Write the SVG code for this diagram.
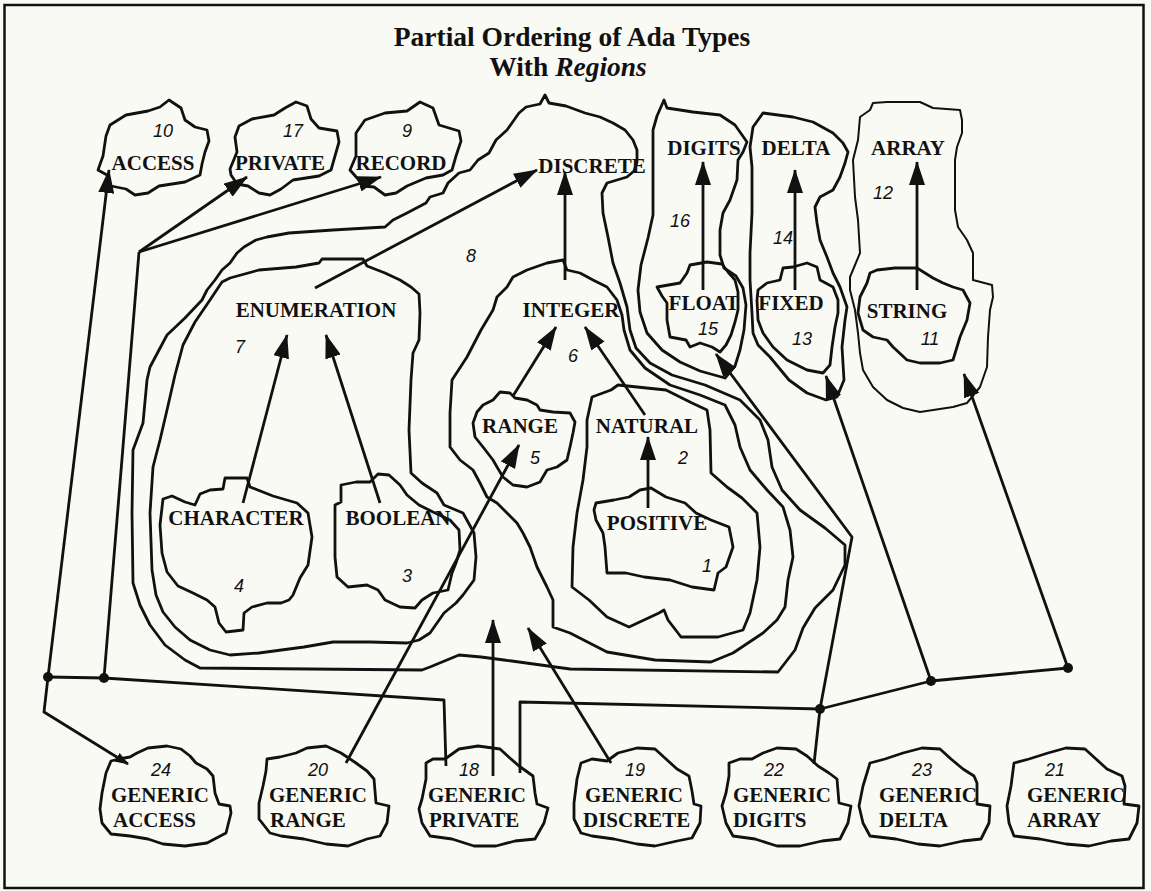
<svg xmlns="http://www.w3.org/2000/svg" width="1151" height="891" viewBox="0 0 1151 891">
<defs>
  <marker id="ah" viewBox="0 0 24 16" refX="23" refY="8" markerWidth="24" markerHeight="16" markerUnits="userSpaceOnUse" orient="auto">
    <path d="M0,0 L24,8 L0,16 z" fill="#111"/>
  </marker>
  <marker id="ahs" viewBox="0 0 14 10" refX="13" refY="5" markerWidth="14" markerHeight="10" markerUnits="userSpaceOnUse" orient="auto">
    <path d="M0,0 L14,5 L0,10 z" fill="#111"/>
  </marker>
</defs>
<style>
  .o{fill:none;stroke:#111;stroke-width:2.8;stroke-linejoin:round;stroke-linecap:round}
  .thin{stroke-width:2}
  .c{fill:none;stroke:#111;stroke-width:2.8;stroke-linejoin:round}
  .a{marker-end:url(#ah)}
  .t{font-family:"Liberation Serif","Times New Roman",serif;font-weight:bold;font-size:21px;fill:#111}
  .m{text-anchor:middle}
  .n{font-family:"Liberation Sans",Arial,sans-serif;font-style:italic;font-size:18px;fill:#111;text-anchor:middle}
  .dot{fill:#111}
</style>

<rect x="0" y="0" width="1151" height="891" fill="#fafaf5"/>
<rect x="4.5" y="5" width="1139" height="883" fill="none" stroke="#111" stroke-width="2.5"/>

<g id="title" font-family="'Liberation Serif','Times New Roman',serif" font-weight="bold" font-size="27.5" fill="#111" text-anchor="middle">
  <text x="572" y="46">Partial Ordering of Ada Types</text>
  <text x="568" y="76">With <tspan font-style="italic">Regions</tspan></text>
</g>

<!-- enclosing regions -->
<g id="region-8-discrete">
  <path class="o" d="M540,104 L545,95 L549,103 L566,106 L585,113 L600,117 L613,123 L625,130 L633,140 L637,150 L637,162 L634,171 L627,177 L607,183 L602,193 L603,213 L608,237 L613,263 L620,283 L627,307 L630,330 L636,348 L650,363 L672,375 L705,385 L740,400 L760,420 L768,440 L772,467 L782,490 L800,510 L825,528 L845,545 L845,565 L833,590 L815,608 L803,628 L795,650 L778,672 L570,669 L519,662 L504,660 L481,657 L459,655 L430,667 L422,670 L200,668 L185,660 L165,645 L150,625 L140,605 L133,583 L132,513 L133,450 L143,423 L147,380 L150,367 L167,335 L185,318 L202,300 L207,290 L215,280 L222,270 L230,263 L237,253 L244,247 L256,240 L267,237 L289,233 L333,230 L385,227 L393,220 L407,213 L426,203 L430,197 L443,193 L448,183 L459,173 L470,170 L478,160 L489,153 L496,140 L507,130 L519,113 L526,107 Z"/>
  <text class="t m" x="592" y="173">DISCRETE</text>
  <text class="n" x="471" y="262">8</text>
</g>

<g id="region-7-enumeration">
  <path class="o" d="M222,282 L230,278 L259,270 L296,267 L319,263 L322,259 L363,259 L367,266 L385,273 L400,280 L411,287 L419,294 L420,313 L419,340 L413,353 L411,380 L409,430 L411,473 L422,483 L437,493 L444,505 L463,513 L474,533 L476,557 L474,580 L463,595 L456,603 L444,613 L437,623 L430,633 L419,640 L407,643 L370,642 L333,642 L304,647 L259,653 L230,655 L210,650 L190,640 L175,627 L163,612 L156,595 L152,570 L150,513 L153,467 L160,440 L167,410 L175,375 L183,345 L195,322 L210,300 Z"/>
  <text class="t m" x="316" y="317">ENUMERATION</text>
  <text class="n" x="240" y="353">7</text>
</g>

<g id="region-4-character">
  <path class="o" d="M163,499 L172,496 L185,502 L195,505 L200,494 L210,490 L223,489 L225,478 L247,478 L250,487 L273,496 L297,503 L308,513 L312,537 L308,565 L300,578 L293,595 L289,600 L281,603 L267,603 L252,607 L244,613 L243,630 L226,632 L219,623 L215,607 L207,600 L193,593 L178,586 L167,572 L162,553 L160,525 Z"/>
  <text class="t m" x="236" y="525">CHARACTER</text>
  <text class="n" x="239" y="592">4</text>
</g>

<g id="region-3-boolean">
  <path class="o" d="M341,485 L356,482 L370,482 L378,474 L389,475 L400,485 L407,495 L419,505 L433,512 L450,520 L459,530 L460,550 L456,563 L452,573 L448,590 L433,593 L422,600 L415,608 L400,607 L385,600 L378,590 L367,585 L348,587 L337,577 L335,557 L335,505 L341,502 Z"/>
  <text class="t m" x="398" y="525">BOOLEAN</text>
  <text class="n" x="407" y="582">3</text>
</g>

<g id="region-6-integer">
  <path class="o" d="M563,260 L567,270 L580,273 L593,280 L607,287 L617,300 L622,315 L624,330 L630,350 L645,368 L670,385 L700,395 L725,405 L735,425 L740,447 L750,470 L767,490 L783,507 L790,530 L793,557 L788,580 L785,607 L777,620 L763,633 L733,653 L711,662 L655,660 L607,652 L570,633 L553,627 L553,600 L547,587 L537,567 L530,547 L523,533 L517,523 L507,513 L497,503 L487,497 L480,483 L473,470 L460,460 L450,447 L450,413 L452,380 L467,357 L481,330 L487,320 L493,310 L497,297 L507,287 L513,277 L527,270 L547,263 Z"/>
  <text class="t m" x="571" y="317">INTEGER</text>
  <text class="n" x="573" y="362">6</text>
</g>

<g id="region-5-range">
  <path class="o" d="M477,412 L483,405 L493,400 L500,392 L510,393 L515,398 L527,400 L537,405 L540,410 L553,412 L570,413 L575,422 L573,433 L570,447 L567,460 L557,467 L547,470 L540,482 L527,487 L513,485 L503,477 L497,467 L493,460 L483,447 L475,437 L473,423 Z"/>
  <text class="t m" x="520" y="433">RANGE</text>
  <text class="n" x="535" y="464">5</text>
</g>

<g id="region-2-natural">
  <path class="o" d="M592,397 L611,390 L618,385 L637,387 L666,390 L692,403 L707,410 L710,430 L711,473 L727,487 L742,498 L757,513 L760,547 L757,580 L750,613 L743,630 L718,637 L681,637 L668,620 L664,610 L659,613 L629,627 L607,617 L589,600 L572,587 L573,547 L577,513 L583,480 L587,447 L587,420 Z"/>
  <text class="t m" x="647" y="433">NATURAL</text>
  <text class="n" x="683" y="464">2</text>
</g>

<g id="region-1-positive">
  <path class="o" d="M596,503 L614,500 L629,497 L640,490 L651,488 L666,497 L685,503 L696,513 L711,520 L729,527 L733,547 L726,567 L718,573 L714,590 L692,587 L670,580 L644,577 L626,573 L607,573 L605,547 L603,533 L596,520 L594,510 Z"/>
  <text class="t m" x="657" y="530">POSITIVE</text>
  <text class="n" x="707" y="572">1</text>
</g>

<g id="region-16-digits">
  <path class="o" d="M664,100 L667,108 L693,112 L720,115 L735,125 L747,142 L743,152 L738,160 L737,180 L730,200 L723,213 L720,230 L720,255 L724,268 L736,276 L743,288 L746,305 L744,330 L740,350 L735,366 L725,378 L700,371 L680,362 L662,350 L647,333 L640,312 L638,290 L641,265 L648,238 L653,215 L653,170 L653,130 L657,116 Z"/>
  <text class="t m" x="704" y="155">DIGITS</text>
  <text class="n" x="680" y="227">16</text>
</g>

<g id="region-15-float">
  <path class="o" d="M657,287 L680,283 L687,273 L690,265 L707,262 L722,264 L728,272 L735,280 L738,292 L738,310 L735,322 L731,335 L726,345 L720,352 L712,347 L700,343 L690,347 L686,340 L670,337 L667,320 L667,303 L662,296 Z"/>
  <text class="t m" x="704" y="310">FLOAT</text>
  <text class="n" x="708" y="335">15</text>
</g>

<g id="region-14-delta">
  <path class="o" d="M763,113 L793,117 L813,122 L833,133 L843,143 L848,152 L845,163 L840,177 L833,190 L820,197 L815,207 L817,223 L820,240 L827,257 L833,273 L840,287 L847,307 L845,320 L842,347 L844,380 L837,397 L826,400 L807,393 L789,380 L770,357 L758,345 L753,333 L752,313 L750,280 L750,253 L752,213 L752,167 L750,147 L753,127 Z"/>
  <text class="t m" x="796" y="155">DELTA</text>
  <text class="n" x="783" y="244">14</text>
</g>

<g id="region-13-fixed">
  <path class="o" d="M758,290 L767,283 L780,280 L783,268 L793,267 L807,263 L817,267 L820,280 L833,287 L838,300 L838,313 L835,327 L832,347 L830,365 L823,373 L807,370 L787,360 L773,347 L763,333 L758,320 L757,300 Z"/>
  <text class="t m" x="791" y="310">FIXED</text>
  <text class="n" x="802" y="345">13</text>
</g>

<g id="region-12-array">
  <path class="o thin" d="M860,117 L870,110 L873,103 L887,102 L920,102 L933,108 L960,110 L962,120 L962,133 L957,147 L955,160 L955,210 L958,227 L967,240 L973,253 L973,280 L992,285 L993,297 L990,310 L988,337 L987,367 L980,387 L967,403 L953,407 L920,412 L903,408 L887,400 L873,387 L863,370 L860,353 L858,333 L855,310 L850,290 L850,277 L860,253 L858,220 L855,197 L853,160 L858,140 Z"/>
  <text class="t m" x="908" y="155">ARRAY</text>
  <text class="n" x="883" y="199">12</text>
</g>

<g id="region-11-string">
  <path class="o" d="M870,273 L877,270 L895,268 L917,268 L925,273 L933,278 L943,283 L953,287 L963,290 L970,303 L967,320 L960,337 L957,347 L953,360 L940,363 L920,363 L907,360 L893,347 L887,340 L873,337 L863,330 L858,313 L860,297 L867,283 Z"/>
  <text class="t m" x="907" y="318">STRING</text>
  <text class="n" x="930" y="345">11</text>
</g>

<!-- top-level types -->
<g id="node-10-access">
  <path class="o" d="M98,170 L103,156 L106,136 L110,125 L126,115 L148,111 L160,107 L169,100 L181,108 L185,120 L195,127 L207,130 L209,141 L205,152 L202,164 L200,175 L185,182 L159,186 L148,193 L135,195 L126,189 L111,186 L107,175 Z"/>
  <text class="t m" x="153" y="170">ACCESS</text>
  <text class="n" x="163" y="137">10</text>
</g>
<g id="node-17-private">
  <path class="o" d="M230,169 L237,152 L235,137 L239,126 L252,119 L274,115 L285,108 L296,102 L307,106 L311,119 L319,128 L337,131 L339,142 L335,156 L331,170 L319,176 L293,180 L281,189 L270,195 L259,193 L248,186 L237,184 L231,175 Z"/>
  <text class="t m" x="280" y="170">PRIVATE</text>
  <text class="n" x="293" y="137">17</text>
</g>
<g id="node-9-record">
  <path class="o" d="M350,170 L356,156 L356,133 L365,120 L385,113 L407,111 L420,102 L433,108 L439,125 L459,131 L461,141 L456,156 L452,170 L443,175 L426,178 L407,186 L396,193 L385,195 L374,187 L363,186 L357,178 Z"/>
  <text class="t m" x="401" y="170">RECORD</text>
  <text class="n" x="407" y="137">9</text>
</g>

<!-- generic formal types -->
<g id="node-24-generic-access" transform="translate(0,26)">
  <path class="o" d="M111,735 L119,733 L130,731 L137,727 L148,722 L167,720 L181,723 L190,730 L196,737 L207,743 L213,750 L215,767 L219,778 L230,780 L231,787 L226,807 L207,817 L185,820 L163,818 L148,813 L130,810 L111,808 L102,797 L100,783 L102,767 L106,747 Z"/>
  <text class="n" x="161" y="750">24</text>
  <text class="t" x="111" y="776">GENERIC</text>
  <text class="t" x="113" y="801">ACCESS</text>
</g>
<g id="node-20-generic-range" transform="translate(0,26)">
  <path class="o" d="M267,733 L280,731 L296,727 L307,722 L326,720 L341,727 L356,737 L367,745 L374,753 L376,777 L389,780 L387,797 L380,810 L367,813 L348,820 L326,818 L304,813 L281,810 L270,807 L259,793 L259,777 L263,760 L266,745 Z"/>
  <text class="n" x="318" y="750">20</text>
  <text class="t" x="269" y="776">GENERIC</text>
  <text class="t" x="270" y="801">RANGE</text>
</g>
<g id="node-18-generic-private" transform="translate(0,26)">
  <path class="o" d="M426,737 L433,733 L445,733 L459,723 L478,720 L500,723 L511,733 L519,740 L533,750 L535,767 L537,778 L548,782 L544,797 L535,813 L515,815 L496,820 L474,820 L452,813 L430,810 L422,797 L419,783 L422,773 L426,753 Z"/>
  <text class="n" x="469" y="750">18</text>
  <text class="t" x="428" y="776">GENERIC</text>
  <text class="t" x="429" y="801">PRIVATE</text>
</g>
<g id="node-19-generic-discrete" transform="translate(0,26)">
  <path class="o" d="M581,737 L592,733 L607,735 L618,727 L637,722 L655,723 L666,733 L677,743 L689,750 L692,765 L694,778 L701,780 L700,797 L692,812 L677,815 L655,820 L637,818 L614,813 L592,810 L581,807 L574,793 L574,777 L577,753 Z"/>
  <text class="n" x="635" y="750">19</text>
  <text class="t" x="585" y="776">GENERIC</text>
  <text class="t" x="583" y="801">DISCRETE</text>
</g>
<g id="node-22-generic-digits" transform="translate(0,26)">
  <path class="o" d="M729,737 L740,733 L752,733 L763,727 L777,722 L796,723 L807,730 L818,740 L829,747 L837,753 L839,777 L851,780 L848,797 L840,813 L822,815 L800,820 L777,820 L755,813 L733,810 L726,797 L722,780 L726,767 L729,750 Z"/>
  <text class="n" x="774" y="750">22</text>
  <text class="t" x="733" y="776">GENERIC</text>
  <text class="t" x="733" y="801">DIGITS</text>
</g>
<g id="node-23-generic-delta" transform="translate(0,26)">
  <path class="o" d="M870,737 L885,733 L903,727 L922,722 L940,723 L951,733 L963,743 L974,750 L977,757 L977,778 L990,780 L989,797 L981,813 L963,815 L940,820 L918,818 L896,813 L870,810 L863,797 L859,780 L863,760 Z"/>
  <text class="n" x="922" y="750">23</text>
  <text class="t" x="879" y="776">GENERIC</text>
  <text class="t" x="879" y="801">DELTA</text>
</g>
<g id="node-21-generic-array" transform="translate(0,26)">
  <path class="o" d="M1014,737 L1029,733 L1048,727 L1066,722 L1085,723 L1096,733 L1107,743 L1122,750 L1125,760 L1124,778 L1139,780 L1137,797 L1129,813 L1111,815 L1089,820 L1066,818 L1040,813 L1014,810 L1009,797 L1007,780 L1011,760 Z"/>
  <text class="n" x="1055" y="750">21</text>
  <text class="t" x="1027" y="776">GENERIC</text>
  <text class="t" x="1027" y="801">ARRAY</text>
</g>

<!-- connectors -->
<g id="connectors">
  <path class="c a" d="M48,677 L109,170"/>
  <path class="c" d="M139,252 L104,678"/>
  <path class="c a" d="M139,252 L247,177"/>
  <path class="c a" d="M139,252 L381,177"/>
  <path class="c" d="M48,677 L44,712 L128,764" marker-end="url(#ahs)"/>
  <path class="c" d="M48,677 L104,678 L444,700 L446,766"/>
  <path class="c" d="M520,773 L520,702 L820,709 L931,681 L1068,668"/>
  <path class="c a" d="M814,764 L820,709 L852,537 L716,354"/>
  <path class="c a" d="M931,681 L826,376"/>
  <path class="c a" d="M1068,668 L964,374"/>
  <path class="c a" d="M611,763 L528,628"/>
  <path class="c a" d="M493,776 L493,620"/>
  <path class="c a" d="M346,763 L519,445"/>
  <path class="c a" d="M315,288 L537,170"/>
  <path class="c a" d="M565,280 L565,172"/>
  <path class="c a" d="M243,503 L287,335"/>
  <path class="c a" d="M380,503 L326,335"/>
  <path class="c a" d="M513,396 L556,327"/>
  <path class="c a" d="M645,415 L585,327"/>
  <path class="c a" d="M648,508 L648,437"/>
  <path class="c a" d="M703,290 L703,162"/>
  <path class="c a" d="M795,290 L795,170"/>
  <path class="c a" d="M917,290 L917,162"/>
  <circle class="dot" cx="48" cy="677" r="5"/>
  <circle class="dot" cx="104" cy="678" r="5"/>
  <circle class="dot" cx="820" cy="709" r="5"/>
  <circle class="dot" cx="931" cy="681" r="5"/>
  <circle class="dot" cx="1068" cy="668" r="5"/>
</g>
</svg>
